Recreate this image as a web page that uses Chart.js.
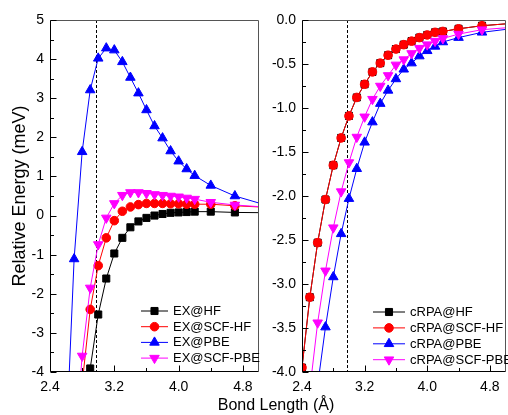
<!DOCTYPE html>
<html>
<head>
<meta charset="utf-8">
<script src="https://cdn.jsdelivr.net/npm/chart.js@4.4.1/dist/chart.umd.min.js"></script>
<style>
  html, body { margin: 0; padding: 0; background: #fff; overflow: hidden; }
  #wrap { position: relative; width: 508px; height: 415px; overflow: hidden; font-family: 'Liberation Sans', Arial, sans-serif; }
  #exChart { position: absolute; left: 0; top: 0; }
  #rpaChart { position: absolute; left: 260px; top: 0; }
  #xTitle { position: absolute; left: 0; width: 552px; top: 397px; line-height: 16px; text-align: center; font-size: 16px; color: #000; }
</style>
</head>
<body>
<div id="wrap">
  <canvas id="exChart" width="280" height="415"></canvas>
  <canvas id="rpaChart" width="252" height="415"></canvas>
  <div id="xTitle">Bond Length (Å)</div>
</div>
<script>
// 結合長 (Å) — 最後の5.2は右端へ線を伸ばすための点
const bondLength = [2.4, 2.5, 2.6, 2.7, 2.8, 2.9, 3.0, 3.1, 3.2, 3.3, 3.4, 3.5, 3.6, 3.7, 3.8, 3.9, 4.0, 4.1, 4.2, 4.4, 4.7, 5.2]
const eqBondLength = 2.975

// 左パネル: EX
const exHF     = [null, null, null, null, -6.0, -3.91, -2.53, -1.61, -0.97, -0.57, -0.30, -0.15, -0.06, 0.00, 0.04, 0.07, 0.08, 0.09, 0.10, 0.10, 0.08, 0.07]
const exScfHF  = [null, null, null, null, -4.3, -2.40, -1.28, -0.57, -0.13, 0.11, 0.22, 0.28, 0.31, 0.31, 0.31, 0.30, 0.30, 0.29, 0.29, 0.29, 0.25, 0.20]
const exPBE    = [null, null, -5.9, -1.11, 1.63, 3.21, 4.02, 4.28, 4.23, 3.93, 3.53, 3.13, 2.70, 2.29, 1.98, 1.65, 1.39, 1.19, 1.02, 0.77, 0.50, 0.20]
const exScfPBE = [null, null, null, -6.2, -3.59, -1.85, -0.74, -0.06, 0.31, 0.52, 0.59, 0.59, 0.57, 0.54, 0.52, 0.50, 0.48, 0.45, 0.42, 0.34, 0.27, 0.20]

// 右パネル: cRPA
const rpaHF     = [-3.95, -3.15, -2.53, -2.04, -1.65, -1.34, -1.09, -0.88, -0.73, -0.59, -0.49, -0.40, -0.33, -0.28, -0.24, -0.20, -0.17, -0.14, -0.13, -0.10, -0.065, -0.03]
const rpaScfHF  = [-3.95, -3.15, -2.53, -2.04, -1.65, -1.34, -1.09, -0.88, -0.73, -0.59, -0.49, -0.40, -0.33, -0.28, -0.24, -0.20, -0.17, -0.14, -0.13, -0.10, -0.065, -0.03]
const rpaPBE    = [null, null, -4.15, -3.49, -2.92, -2.43, -2.03, -1.69, -1.39, -1.16, -0.95, -0.80, -0.67, -0.56, -0.49, -0.41, -0.35, -0.30, -0.25, -0.20, -0.14, -0.085]
const rpaScfPBE = [null, -4.2, -3.44, -2.85, -2.36, -1.95, -1.62, -1.33, -1.10, -0.90, -0.75, -0.63, -0.51, -0.45, -0.38, -0.32, -0.28, -0.24, -0.21, -0.16, -0.11, -0.075]

// 目盛り
const xTicks = [2.4, 3.2, 4.0, 4.8]
const exYTicks = [-4, -3, -2, -1, 0, 1, 2, 3, 4, 5]
const rpaYTicks = [-4.0, -3.5, -3.0, -2.5, -2.0, -1.5, -1.0, -0.5, 0.0]

const FONT = "'Liberation Sans', Arial, sans-serif"

const SQUARE = { shape: 'rect', rotation: 0, radius: 5 }
const CIRCLE = { shape: 'circle', rotation: 0, radius: 4.3 }
const TRI_UP = { shape: 'triangle', rotation: 0, radius: 5.5 }
const TRI_DOWN = { shape: 'triangle', rotation: 180, radius: 5.5 }

function toPoints(values) {
  return bondLength.map((x, i) => ({ x: x, y: values[i] })).filter(p => p.y !== null)
}

function makeDataset(label, values, color, marker, order) {
  return {
    label: label,
    data: toPoints(values),
    borderColor: color,
    backgroundColor: color,
    borderWidth: 1,
    pointStyle: marker.shape,
    pointRotation: marker.rotation,
    pointRadius: marker.radius,
    pointHoverRadius: marker.radius,
    pointBackgroundColor: color,
    pointBorderColor: color,
    pointBorderWidth: 1,
    tension: 0,
    order: order
  }
}

function minorsOf(majors, min, max) {
  const out = []
  const step = majors[1] - majors[0]
  const all = [majors[0] - step].concat(majors)
  all.forEach(v => {
    const m = v + step / 2
    if (m > min && m < max) out.push(m)
  })
  return out
}

// 破線・枠・内向き目盛り
const framePlugin = {
  id: 'frame',
  beforeDatasetsDraw(chart) {
    const { ctx, chartArea: a, scales } = chart
    const x = Math.round(scales.x.getPixelForValue(eqBondLength)) + 0.5
    ctx.save()
    ctx.strokeStyle = '#000'
    ctx.lineWidth = 1
    ctx.setLineDash([3, 2])
    ctx.beginPath()
    ctx.moveTo(x, a.top)
    ctx.lineTo(x, a.bottom)
    ctx.stroke()
    ctx.restore()
  },
  afterDatasetsDraw(chart, args, opts) {
    const { ctx, chartArea: a, scales } = chart
    const L = Math.round(a.left) + 0.5
    const R = Math.round(a.right) - 0.5
    const T = Math.round(a.top) + 0.5
    const B = Math.round(a.bottom) - 0.5
    ctx.save()
    ctx.lineWidth = 1
    ctx.strokeStyle = '#555'
    ctx.beginPath()
    ctx.moveTo(L, T); ctx.lineTo(R, T); ctx.lineTo(R, B)
    ctx.stroke()
    ctx.strokeStyle = '#000'
    ctx.beginPath()
    ctx.moveTo(L, T); ctx.lineTo(L, B); ctx.lineTo(R, B)
    ctx.stroke()

    const xs = scales.x
    const ys = scales.y
    const xMaj = xs.ticks.map(t => t.value)
    const yMaj = ys.ticks.map(t => t.value)
    ctx.beginPath()
    xMaj.forEach(v => {
      const p = Math.round(xs.getPixelForValue(v)) + 0.5
      ctx.moveTo(p, B); ctx.lineTo(p, B - 6)
    })
    minorsOf(xMaj, xs.min, xs.max).forEach(v => {
      const p = Math.round(xs.getPixelForValue(v)) + 0.5
      ctx.moveTo(p, B); ctx.lineTo(p, B - 3.5)
    })
    yMaj.forEach(v => {
      const p = Math.round(ys.getPixelForValue(v)) + 0.5
      ctx.moveTo(L, p); ctx.lineTo(L + 6, p)
    })
    minorsOf(yMaj, ys.min, ys.max).forEach(v => {
      const p = Math.round(ys.getPixelForValue(v)) + 0.5
      ctx.moveTo(L, p); ctx.lineTo(L + 3.5, p)
    })
    ctx.stroke()
    ctx.restore()
  }
}

// 凡例 (線 + マーカー + 文字) をプロット内に描く
const legendPlugin = {
  id: 'seriesLegend',
  afterDraw(chart, args, opts) {
    const ctx = chart.ctx
    ctx.save()
    chart.data.datasets.forEach((ds, i) => {
      const y = opts.y + i * opts.row
      ctx.strokeStyle = ds.borderColor
      ctx.fillStyle = ds.backgroundColor
      ctx.lineWidth = 1
      ctx.beginPath()
      ctx.moveTo(opts.x, y)
      ctx.lineTo(opts.x + opts.len, y)
      ctx.stroke()
      Chart.helpers.drawPoint(ctx, {
        pointStyle: ds.pointStyle,
        rotation: ds.pointRotation,
        radius: ds.pointRadius,
        borderWidth: 1
      }, opts.x + opts.len / 2, y)
      ctx.fillStyle = '#000'
      ctx.font = '13px ' + FONT
      ctx.textBaseline = 'middle'
      ctx.textAlign = 'left'
      ctx.fillText(ds.label, opts.x + opts.len + 5, y + 0.5)
    })
    ctx.restore()
  }
}

function makeOptions(cfg) {
  return {
    responsive: false,
    animation: false,
    events: [],
    layout: { padding: cfg.padding },
    plugins: {
      legend: { display: false },
      tooltip: { enabled: false },
      seriesLegend: cfg.legend
    },
    scales: {
      x: {
        type: 'linear',
        min: 2.4,
        max: 5.0,
        grid: { display: false, drawTicks: false },
        border: { display: false },
        afterBuildTicks: s => { s.ticks = xTicks.map(v => ({ value: v })) },
        afterFit: s => { s.height = 43 },
        ticks: {
          autoSkip: false,
          maxRotation: 0,
          padding: 7,
          color: '#000',
          font: { family: FONT, size: 14 },
          callback: v => v.toFixed(1)
        }
      },
      y: {
        type: 'linear',
        min: cfg.yMin,
        max: cfg.yMax,
        grid: { display: false, drawTicks: false },
        border: { display: false },
        afterBuildTicks: s => { s.ticks = cfg.yTicks.map(v => ({ value: v })) },
        afterFit: s => { s.width = cfg.yWidth },
        ticks: {
          autoSkip: false,
          padding: 6,
          color: '#000',
          font: { family: FONT, size: 14 },
          callback: cfg.yFormat
        },
        title: cfg.yTitle
      }
    }
  }
}

new Chart(document.getElementById('exChart').getContext('2d'), {
  type: 'line',
  data: {
    datasets: [
      makeDataset('EX@HF', exHF, '#000000', SQUARE, 4),
      makeDataset('EX@SCF-HF', exScfHF, '#ff0000', CIRCLE, 3),
      makeDataset('EX@PBE', exPBE, '#0000ff', TRI_UP, 2),
      makeDataset('EX@SCF-PBE', exScfPBE, '#ff00ff', TRI_DOWN, 1)
    ]
  },
  options: makeOptions({
    padding: { left: 0, top: 20, right: 21, bottom: 0 },
    yMin: -4, yMax: 5, yTicks: exYTicks, yWidth: 50,
    yFormat: v => String(v),
    yTitle: {
      display: true,
      text: 'Relative Energy (meV)',
      color: '#000',
      font: { family: FONT, size: 18 },
      padding: { top: 9, bottom: 0 }
    },
    legend: { x: 141, y: 311, row: 15.7, len: 27 }
  }),
  plugins: [framePlugin, legendPlugin]
})

new Chart(document.getElementById('rpaChart').getContext('2d'), {
  type: 'line',
  data: {
    datasets: [
      makeDataset('cRPA@HF', rpaHF, '#000000', SQUARE, 4),
      makeDataset('cRPA@SCF-HF', rpaScfHF, '#ff0000', CIRCLE, 3),
      makeDataset('cRPA@PBE', rpaPBE, '#0000ff', TRI_UP, 2),
      makeDataset('cRPA@SCF-PBE', rpaScfPBE, '#ff00ff', TRI_DOWN, 1)
    ]
  },
  options: makeOptions({
    padding: { left: 0, top: 20, right: 2, bottom: 0 },
    yMin: -4, yMax: 0, yTicks: rpaYTicks, yWidth: 42,
    yFormat: v => v.toFixed(1),
    yTitle: { display: false },
    legend: { x: 113, y: 312, row: 15.9, len: 32 }
  }),
  plugins: [framePlugin, legendPlugin]
})
</script>
</body>
</html>
